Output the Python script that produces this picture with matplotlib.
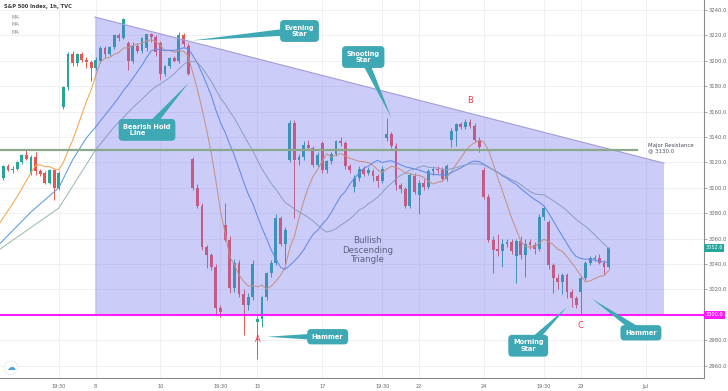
import numpy as np
import pandas as pd
import matplotlib
matplotlib.use('Agg')
import matplotlib.pyplot as plt
from matplotlib.patches import Polygon
from matplotlib.ticker import FuncFormatter
from matplotlib.transforms import blended_transform_factory

# --- S&P 500 Index, 1h, TVC : 3 Jun - 29 Jun 2020, one entry per hourly bar ---
opens = [3098, 3108, 3117, 3114, 3115, 3120, 3126,
         3112, 3124, 3113, 3112, 3104, 3114, 3100,
         3164, 3179, 3205, 3198, 3205, 3201, 3199,
         3194, 3200, 3210, 3205, 3211, 3220, 3218,
         3214, 3200, 3212, 3208, 3210, 3221, 3219,
         3214, 3190, 3196, 3202, 3200, 3220, 3212,
         3123, 3100, 3086, 3053, 3047, 3038, 3005,
         3071, 3059, 3021, 3041, 3016, 3008, 3014,
         2994, 2997, 3014, 3033, 3041, 3076, 3056,
         3122, 3151, 3122, 3124, 3134, 3131, 3118,
         3135, 3114, 3121, 3127, 3137, 3135, 3117,
         3101, 3108, 3115, 3112, 3113, 3109, 3105,
         3139, 3142, 3133, 3102, 3099, 3086, 3109,
         3094, 3104, 3101, 3113, 3115, 3114, 3107,
         3138, 3145, 3150, 3148, 3152, 3149, 3138,
         3114, 3093, 3059, 3052, 3050, 3056, 3057,
         3046, 3058, 3047, 3057, 3055, 3052, 3077,
         3073, 3039, 3029, 3026, 3031, 3018, 3013,
         3018, 3029, 3041, 3044, 3045, 3041, 3038]
highs = [3110, 3118, 3119, 3117, 3121, 3127, 3130,
         3126, 3128, 3115, 3113, 3115, 3115, 3113,
         3180, 3207, 3208, 3206, 3207, 3203, 3201,
         3203, 3212, 3212, 3212, 3221, 3222, 3234,
         3216, 3215, 3214, 3219, 3221, 3222, 3220,
         3216, 3197, 3203, 3204, 3223, 3222, 3214,
         3124, 3103, 3088, 3055, 3049, 3040, 3008,
         3088, 3062, 3044, 3043, 3020, 3017, 3043,
         2999, 3015, 3034, 3043, 3079, 3078, 3069,
         3153, 3153, 3127, 3137, 3138, 3133, 3128,
         3137, 3122, 3128, 3138, 3140, 3137, 3119,
         3110, 3117, 3117, 3116, 3115, 3111, 3117,
         3155, 3144, 3135, 3104, 3101, 3112, 3112,
         3106, 3107, 3115, 3117, 3117, 3116, 3119,
         3147, 3151, 3152, 3154, 3154, 3151, 3140,
         3116, 3095, 3062, 3064, 3060, 3060, 3060,
         3060, 3062, 3060, 3060, 3057, 3079, 3086,
         3075, 3041, 3032, 3033, 3033, 3020, 3015,
         3031, 3042, 3046, 3047, 3048, 3043, 3053]
lows = [3096, 3106, 3113, 3112, 3114, 3119, 3122,
        3110, 3110, 3109, 3103, 3103, 3090, 3098,
        3162, 3177, 3196, 3196, 3199, 3194, 3184,
        3193, 3198, 3203, 3204, 3209, 3216, 3217,
        3193, 3198, 3206, 3206, 3208, 3215, 3204,
        3185, 3188, 3194, 3199, 3198, 3211, 3189,
        3098, 3084, 3051, 3037, 3035, 3000, 2998,
        3058, 3017, 3018, 3014, 2984, 3004, 3012,
        2965, 2990, 3012, 3030, 3039, 3054, 3040,
        3120, 3076, 3118, 3122, 3130, 3116, 3116,
        3112, 3112, 3119, 3125, 3133, 3115, 3112,
        3097, 3105, 3109, 3110, 3105, 3101, 3104,
        3137, 3131, 3098, 3096, 3084, 3084, 3095,
        3079, 3098, 3099, 3110, 3112, 3105, 3105,
        3132, 3133, 3146, 3146, 3147, 3136, 3128,
        3091, 3057, 3033, 3046, 3038, 3053, 3048,
        3025, 3044, 3030, 3052, 3048, 3050, 3075,
        3036, 3017, 3020, 3016, 3013, 3006, 3005,
        3000, 3027, 3039, 3042, 3040, 3031, 3036]
closes = [3108, 3117, 3114, 3115, 3120, 3126, 3123,
          3124, 3113, 3111, 3104, 3114, 3100, 3112,
          3179, 3205, 3198, 3205, 3201, 3199, 3194,
          3201, 3210, 3205, 3211, 3220, 3218, 3233,
          3200, 3212, 3208, 3218, 3221, 3219, 3207,
          3190, 3196, 3202, 3200, 3220, 3213, 3190,
          3100, 3086, 3053, 3047, 3038, 3005, 3002,
          3059, 3021, 3041, 3016, 3008, 3014, 3040,
          2997, 3014, 3033, 3041, 3076, 3056, 3067,
          3151, 3122, 3124, 3134, 3131, 3118, 3126,
          3114, 3121, 3127, 3137, 3135, 3117, 3114,
          3108, 3115, 3111, 3114, 3109, 3105, 3115,
          3142, 3133, 3102, 3099, 3086, 3110, 3097,
          3104, 3101, 3113, 3115, 3114, 3107, 3117,
          3145, 3150, 3148, 3152, 3149, 3138, 3132,
          3093, 3059, 3051, 3050, 3056, 3057, 3050,
          3058, 3047, 3056, 3055, 3052, 3077, 3084,
          3039, 3029, 3026, 3031, 3018, 3013, 3008,
          3029, 3041, 3045, 3045, 3041, 3038, 3052.6]

# MA values for the first bars (history before the window)
ma9_head_x, ma9_head_y = [0, 4, 7], [3071, 3093, 3112]
ma20_head_x, ma20_head_y = [0, 7, 13, 16], [3055, 3081, 3100, 3122]
ma30_head_x, ma30_head_y = [0, 13, 21, 25], [3051, 3084, 3130, 3148]

tick_pos = [13, 21, 35, 48, 56, 70, 83, 91, 105, 118, 126, 140]
tick_lbl = ['19:30', '8', '10', '19:30', '15', '17', '19:30', '22', '24', '19:30', '29', 'Jul']
y_ticks = list(range(2960, 3241, 20))

resistance = 3130.0
support = 3000.0
last_price = 3052.6

# triangle pattern (bar, price)
tri_x = [20.8, 20.8, 144.0, 144.0]
tri_y = [3234.5, 3000.0, 3000.0, 3119.4]

UP, DOWN = '#26a69a', '#ef5350'
BOX = '#3ea8b4'

n = len(closes)
x = np.arange(n)
o, h, l, c = map(np.array, (opens, highs, lows, closes))
cols = np.where(c >= o, UP, DOWN)

fig = plt.figure(figsize=(7.28, 3.91), dpi=100)
ax = fig.add_axes([0, 13 / 391, 704 / 728, 378 / 391])
ax.set_xlim(0.28, 152.65)
ax.set_ylim(2950.2, 3247.9)

# candles
ax.vlines(x, l, h, colors=cols, lw=0.7, zorder=2)
ax.bar(x, np.maximum(np.abs(c - o), 0.5), bottom=np.minimum(o, c), width=0.62,
       color=cols, linewidth=0, zorder=3)

# moving averages
cs = pd.Series(closes)
for per, hx, hy, col in [(9, ma9_head_x, ma9_head_y, '#f5a54c'),
                         (20, ma20_head_x, ma20_head_y, '#5a9be0'),
                         (30, ma30_head_x, ma30_head_y, '#9dbdaa')]:
    ma = cs.rolling(per).mean()
    xs = hx + list(range(per - 1, n))
    ys = hy + list(ma[per - 1:])
    ax.plot(xs, ys, color=col, lw=0.75, zorder=4)

# triangle overlay
ax.add_patch(Polygon(list(zip(tri_x, tri_y)), closed=True, facecolor='#6e6ef0',
                     alpha=0.35, edgecolor='none', zorder=5))
ax.plot([tri_x[0], tri_x[3]], [tri_y[0], tri_y[3]], color='#a59cd8', lw=0.8, zorder=6)

# horizontal levels
ax.plot([0.28, 138.2], [resistance, resistance], color='#8ca88c', lw=1.6, zorder=6)
ax.axhline(support, color='#ff1aff', lw=1.5, zorder=7)

# axes styling (the 3000 label is replaced by the magenta tag)
ax.set_yticks(y_ticks)
ax.yaxis.tick_right()
ax.yaxis.set_major_formatter(FuncFormatter(lambda v, p: '' if v == support else f'{v:.1f}'))
ax.set_xticks(tick_pos)
ax.set_xticklabels(tick_lbl)
ax.tick_params(axis='y', labelsize=3.8, labelcolor='#666666', length=2, width=0.5,
               color='#888888', pad=1.5)
ax.tick_params(axis='x', labelsize=3.6, labelcolor='#666666', length=0, pad=4)
ax.grid(color='#eceef3', lw=0.6, zorder=0)
for s in ['top', 'left']:
    ax.spines[s].set_visible(False)
for s in ['right', 'bottom']:
    ax.spines[s].set_color('#8a8a8a')
    ax.spines[s].set_linewidth(0.8)

# price tags on the axis
bt = blended_transform_factory(ax.transAxes, ax.transData)
ax.text(1.002, last_price, f'{last_price:.1f}', transform=bt, fontsize=3.6, color='white',
        va='center', ha='left', clip_on=False, zorder=10,
        bbox=dict(boxstyle='square,pad=0.3', fc=UP, ec='none'))
ax.text(1.002, support, f'{support:.1f}', transform=bt, fontsize=3.6, color='white',
        va='center', ha='left', clip_on=False, zorder=10,
        bbox=dict(boxstyle='square,pad=0.3', fc='#ff1aff', ec='none'))

# header
ax.text(0.005, 0.982, 'S&P 500 Index, 1h, TVC', transform=ax.transAxes, fontsize=3.7,
        fontweight='bold', color='#3a3a3a', va='center')
for i in range(3):
    ax.text(0.016, 0.955 - i * 0.021, 'MA', transform=ax.transAxes, fontsize=3.7,
            color='#8a8a8a', va='center')

# tradingview logo, bottom left
ax.text(0.0155, 0.027, '\u2601', transform=ax.transAxes, fontsize=6.5, color='#4aa3e0',
        ha='center', va='center', zorder=11,
        bbox=dict(boxstyle='circle,pad=0.25', fc='white', ec='#e3e6ee', lw=0.5))


def callout(text, box, tip, halfw=4.0, ma='center'):
    ax.text(box[0], box[1], text, ha='center', va='center', color='white', fontsize=4.8,
            fontweight='bold', multialignment=ma, zorder=11, linespacing=1.1,
            bbox=dict(boxstyle='round,pad=0.7,rounding_size=0.6', fc=BOX, ec='none'))
    pb = ax.transData.transform(box)
    pt = ax.transData.transform(tip)
    d = pt - pb
    nrm = np.array([-d[1], d[0]]) / np.hypot(*d) * halfw
    pts = ax.transData.inverted().transform([pt, pb + nrm, pb - nrm])
    ax.add_patch(Polygon(pts, closed=True, fc=BOX, ec='none', zorder=10))


callout('Evening\nStar', (65.1, 3223.5), (41.8, 3216))
callout('Bearish Hold\n   Line', (32.1, 3145.6), (41.1, 3182.6), ma='left')
callout('Shooting\nStar', (78.9, 3203.0), (85.0, 3155.0))
callout('Hammer', (71.2, 2982.7), (58.1, 2982.7))
callout('Morning\nStar', (114.6, 2975.6), (123.0, 3006.0))
callout('Hammer', (139.0, 2985.8), (128.4, 3012.6))

for lab, bx, py in [('A', 56.1, 2980.3), ('B', 102.0, 3168.4), ('C', 126.0, 2991.3)]:
    ax.text(bx, py, lab, color='#f23645', fontsize=6, ha='center', va='center', zorder=11)

ax.text(79.9, 3051, 'Bullish\nDescending\nTriangle', color='#5b6180', fontsize=6.2,
        ha='center', va='center', linespacing=1.05, zorder=11)
ax.text(140.5, 3131, 'Major Resistance\n@ 3130.0', color='#4a4f63', fontsize=3.9,
        ha='left', va='center', linespacing=1.0, zorder=11, clip_on=False)

fig.savefig('out.png', dpi=100)
